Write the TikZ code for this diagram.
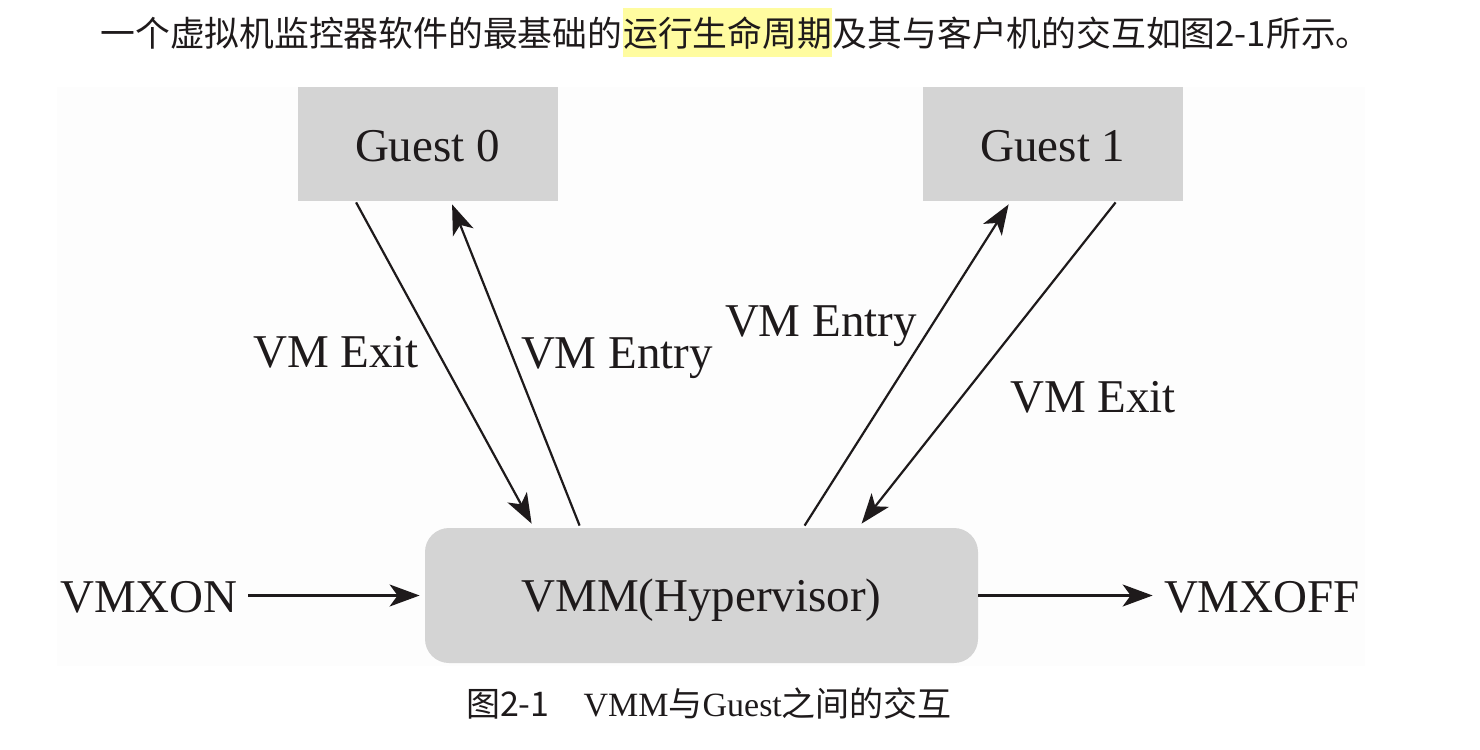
\documentclass[tikz,border=0pt]{standalone}
\usepackage{fontspec}
\setmainfont{Liberation Serif}
\newfontfamily\cjk{Noto Sans CJK SC}
\usetikzlibrary{arrows.meta,calc}
\definecolor{boxgray}{RGB}{212,212,212}
\definecolor{ink}{RGB}{30,26,27}
\definecolor{hl}{RGB}{255,252,160}
\definecolor{panel}{RGB}{253,253,253}
\begin{document}
\begin{tikzpicture}[x=0.5pt,y=-0.5pt,
  every node/.style={text=ink},
  gbox/.style={rectangle,fill=boxgray,minimum width=130pt,minimum height=57pt,inner sep=0pt,font=\fontsize{23.5pt}{28pt}\selectfont},
  vbox/.style={rectangle,rounded corners=12pt,fill=boxgray,minimum width=276.5pt,minimum height=67.5pt,inner sep=0pt,font=\fontsize{23.5pt}{28pt}\selectfont},
  lbl/.style={inner sep=0pt,anchor=base,font=\fontsize{23.5pt}{28pt}\selectfont},
  arr/.style={draw=ink,line width=1.1pt,-{Stealth[length=15pt,width=11pt,inset=4pt]}},
  topline/.style={inner sep=0pt,anchor=base west,font=\cjk\fontsize{17.4pt}{20pt}\selectfont}
]
\useasboundingbox (0,0) rectangle (1480,750);
\fill[panel] (57,87) rectangle (1365,666);

% top sentence
\node[topline] (t1) at (100,46) {一个虚拟机监控器软件的最基础的};
\node[topline,fill=hl,inner ysep=4pt] (t2) at (t1.base east) {运行生命周期};
\node[topline] (t3) at (t2.base east) {及其与客户机的交互如图2-1所示。};

% boxes
\node[gbox] (g0) at (427.5,144) {\raisebox{-1pt}[\height][\depth]{Guest 0}};
\node[gbox] (g1) at (1053,144) {\raisebox{-1pt}[\height][\depth]{Guest 1}};
\node[vbox] (vmm) at (701.5,595.5) {\raisebox{-2.5pt}[\height][\depth]{VMM(Hypervisor)}};
\node[inner sep=0pt,font=\fontsize{23.5pt}{28pt}\selectfont] (on) at (149,597) {VMXON};
\node[inner sep=0pt,font=\fontsize{23.5pt}{28pt}\selectfont] (off) at (1262,597) {VMXOFF};

% horizontal arrows
\draw[arr,shorten <=5pt,shorten >=2.5pt] (on.east |- vmm.west) -- (vmm.west);
\draw[arr,shorten >=5.5pt] (vmm.east) -- (off.west |- vmm.east);

% guest 0 arrows
\draw[arr] ($(g0.south west)+(59,1)$) -- ($(vmm.north west)+(107,-4)$);
\draw[arr] ($(vmm.north west)+(155,-2)$) -- ($(g0.south west)+(155,3)$);
% guest 1 arrows
\draw[arr] ($(vmm.north west)+(380,-2)$) -- ($(g1.south west)+(86,3)$);
\draw[arr] ($(g1.south west)+(193,1)$) -- ($(vmm.north west)+(437,-4)$);

% labels
\node[lbl] (l1) at (336,367) {VM Exit};
\node[lbl] (l2) at (617,368) {VM Entry};
\node[lbl] (l3) at (821,336) {VM Entry};
\node[lbl] (l4) at (1093,412) {VM Exit};

% caption
\node[inner sep=0pt,anchor=base,font=\fontsize{17pt}{20pt}\selectfont] (cap) at (709,716)
  {{\cjk 图2-1}\hspace{17pt}VMM{\cjk 与}Guest{\cjk 之间的交互}};
\end{tikzpicture}
\end{document}
